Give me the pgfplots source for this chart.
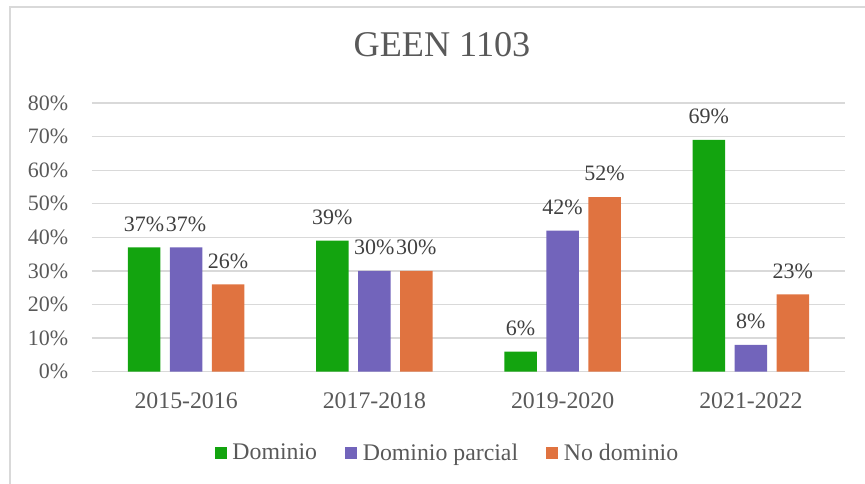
\documentclass[border=0pt]{standalone}
\usepackage{pgfplots}
\pgfplotsset{compat=1.18}
\usepackage{fontspec}
\setmainfont{Liberation Serif}

\definecolor{cdom}{HTML}{13A40F}
\definecolor{cpar}{HTML}{7264BB}
\definecolor{cno}{HTML}{E07340}
\definecolor{txt}{HTML}{595959}
\definecolor{lbl}{HTML}{404040}
\definecolor{gridgray}{HTML}{D9D9D9}

\newcommand{\ticksize}{\fontsize{22}{22}\selectfont}
\newcommand{\catsize}{\fontsize{23.8}{24}\selectfont}

\begin{document}
\begin{tikzpicture}[x=1pt,y=1pt]
\begin{axis}[
    at={(0,0)}, anchor=south west,
    scale only axis,
    width=753pt, height=268.7pt,
    xmin=-0.5, xmax=3.5,
    ymin=0, ymax=80,
    clip=false,
    /pgf/number format/assume math mode=true,
    ybar, bar width=32.3pt,
    axis line style={draw=none},
    major tick length=0pt,
    tick style={draw=none},
    ymajorgrids,
    grid style={gridgray, line width=1.3pt},
    ytick={0,10,...,80},
    yticklabel={\pgfmathprintnumber{\tick}\%},
    yticklabel style={font=\ticksize, text=txt, anchor=east, inner sep=0pt, xshift=-23.7pt},
    xtick={0,1,2,3},
    xticklabels={2015-2016,2017-2018,2019-2020,2021-2022},
    xticklabel style={font=\catsize, text=txt, anchor=base, inner sep=0pt, yshift=-36.3pt},
    title={GEEN 1103},
    title style={at={(axis description cs:0.4648,1.1515)}, anchor=base, inner sep=0pt,
        font=\fontsize{36.2}{36}\selectfont, text=txt},
    nodes near coords={\pgfmathprintnumber{\pgfplotspointmeta}\%},
    every node near coord/.append style={font=\ticksize, text=lbl, anchor=base,
        inner sep=0pt, yshift=16.3pt},
    legend columns=3,
    legend image code/.code={\fill[#1, draw=none] (0pt,-6.5pt) rectangle (12pt,5.5pt);},
    legend style={at={(axis description cs:0.4708,-0.301)}, anchor=center,
        draw=none, fill=none, font=\catsize, text=txt,
        nodes={inner sep=0pt},
        /tikz/every odd column/.append style={column sep=5.7pt},
        /tikz/every even column/.append style={column sep=28pt}},
]
\addplot[fill=cdom, draw=none, bar shift=-42pt] coordinates {(0,37) (1,39) (2,6) (3,69)};
\addplot[fill=cpar, draw=none, bar shift=0pt] coordinates {(0,37) (1,30) (2,42) (3,8)};
\addplot[fill=cno, draw=none, bar shift=42pt] coordinates {(0,26) (1,30) (2,52) (3,23)};
\legend{Dominio, Dominio parcial, No dominio}
\end{axis}
\draw[gridgray, line width=1.3pt] (-82,-130) -- (-82,364.7) -- (800,364.7);
\pgfresetboundingbox
\useasboundingbox (-92,-111.3) rectangle (773,371.7);
\end{tikzpicture}
\end{document}
